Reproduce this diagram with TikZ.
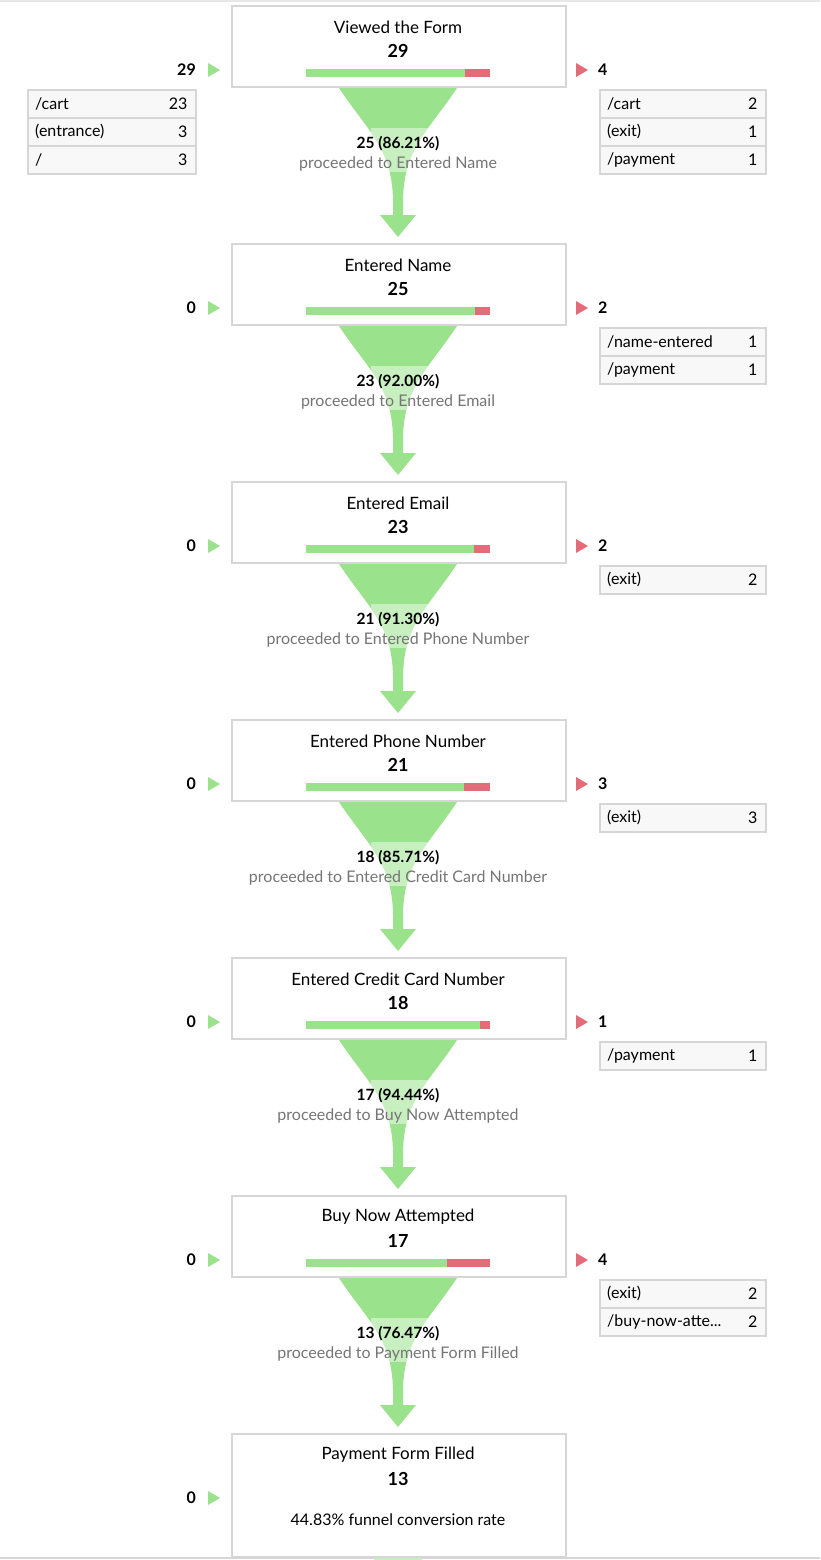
\documentclass[tikz,border=0pt]{standalone}
\usepackage{fontspec}
\setmainfont{Lato}
\definecolor{fgreen}{HTML}{9BE28C}
\definecolor{fred}{HTML}{E36C78}
\definecolor{bord}{HTML}{D6D6D6}
\definecolor{cell}{HTML}{F8F8F8}
\definecolor{gtext}{HTML}{757575}
\tikzset{
 stepbox/.style={draw=bord,line width=1.6pt,fill=white,minimum width=334pt,minimum height=81pt,inner sep=0},
 ttl/.style={font=\fontsize{17}{20}\selectfont,inner sep=0},
 num/.style={font=\fontsize{18}{20}\selectfont\bfseries,inner sep=0},
 pct/.style={font=\fontsize{15.5}{18}\selectfont\bfseries,inner sep=0},
 prc/.style={font=\fontsize{16}{18}\selectfont,text=gtext,inner sep=0},
 side/.style={font=\fontsize{16}{18}\selectfont\bfseries,inner sep=0},
 celltx/.style={font=\fontsize{16}{18}\selectfont,inner sep=0},
 cellbox/.style={draw=bord,line width=1.6pt,fill=cell,minimum width=166pt,minimum height=28pt,inner sep=0},
}
\begin{document}
\begin{tikzpicture}[x=1pt,y=-1pt]
\useasboundingbox (0,0) rectangle (820,1560);
\fill[white] (0,0) rectangle (820,1560);
\draw[bord!60,line width=1.5pt] (0,1) -- (820,1);
\draw[bord,line width=1.5pt] (0,1558) -- (820,1558);
% funnels
\foreach \i/\hw in {0/59,1/59,2/59,3/59,4/59,5/59,6/53}{
 \pgfmathsetmacro{\t}{88+238*\i}
 \begin{scope}[yshift=-\t pt]
  \path[fill=fgreen,name=fun\i] (398-\hw,0) .. controls (398-\hw+30,45) and (392,60) .. (393,112) -- (393,127)
   -- (380,127) -- (398,149) -- (416,127) -- (403,127) -- (403,112) .. controls (404,60) and (398+\hw-30,45) .. (398+\hw,0) -- cycle;
  \begin{scope}
   \clip (398-\hw,0) .. controls (398-\hw+30,45) and (392,60) .. (393,112) -- (403,112) .. controls (404,60) and (398+\hw-30,45) .. (398+\hw,0) -- cycle;
   \fill[white,opacity=0.45] (371,40) rectangle (428,84);
  \end{scope}
 \end{scope}
}
% steps
\foreach \i/\name/\n/\p/\pr/\frac/\ex in {
 0/Viewed the Form/29/25 (86.21\%)/Entered Name/0.862/4,
 1/Entered Name/25/23 (92.00\%)/Entered Email/0.92/2,
 2/Entered Email/23/21 (91.30\%)/Entered Phone Number/0.913/2,
 3/Entered Phone Number/21/18 (85.71\%)/Entered Credit Card Number/0.857/3,
 4/Entered Credit Card Number/18/17 (94.44\%)/Buy Now Attempted/0.944/1,
 5/Buy Now Attempted/17/13 (76.47\%)/Payment Form Filled/0.765/4}{
 \pgfmathsetmacro{\t}{5+238*\i}
 \begin{scope}[yshift=-\t pt]
  \node[stepbox,anchor=north west] (box\i) at (231,0) {};
  \node[ttl] (t\i) at (398,22) {\name};
  \node[num] (n\i) at (398,46) {\n};
  \fill[fred] (306,64) rectangle (490,72);
  \fill[fgreen] (306,64) rectangle ({306+184*\frac},72);
  \node[pct] (p\i) at (398,139) {\p};
  \node[prc] (r\i) at (398,159) {proceeded to \pr};
  \fill[fred] (576,58) -- (588,65) -- (576,72) -- cycle;
  \node[side,anchor=west] (ex\i) at (598,65) {\ex};
  \fill[fgreen] (208,58) -- (220,65) -- (208,72) -- cycle;
 \end{scope}
}
\foreach \i/\v in {0/29,1/0,2/0,3/0,4/0,5/0}{
 \pgfmathsetmacro{\t}{70+238*\i}
 \node[side,anchor=east] (in\i) at (196,\t) {\v};
}
% last box
\node[stepbox,anchor=north west,minimum height=123pt] (box6) at (231,1433) {};
\node[ttl] (t6) at (398,1455) {Payment Form Filled};
\node[num] (n6) at (398,1479) {13};
\node[celltx] (conv) at (398,1520) {44.83\% funnel conversion rate};
\fill[fgreen] (208,1491) -- (220,1498) -- (208,1505) -- cycle;
\node[side,anchor=east] (in6) at (196,1498) {0};
% tables
\foreach \x/\y/\a/\b [count=\k] in {
 27/89/{/cart}/23, 27/117/(entrance)/3, 27/145/{/}/3,
 599/89/{/cart}/2, 599/117/(exit)/1, 599/145/{/payment}/1,
 599/327/{/name-entered}/1, 599/355/{/payment}/1,
 599/565/(exit)/2, 599/803/(exit)/3, 599/1041/{/payment}/1,
 599/1279/(exit)/2, 599/1307/{/buy-now-atte...}/2}{
 \node[cellbox,anchor=north west,minimum width={\ifnum\x=27 168pt\else 166pt\fi}] (c\k) at (\x,\y) {};
 \node[celltx,anchor=west] (ca\k) at ([xshift=8pt]c\k.west) {\a};
 \node[celltx,anchor=east] (cb\k) at ([xshift=-9pt]c\k.east) {\b};
}
\end{tikzpicture}
\end{document}
